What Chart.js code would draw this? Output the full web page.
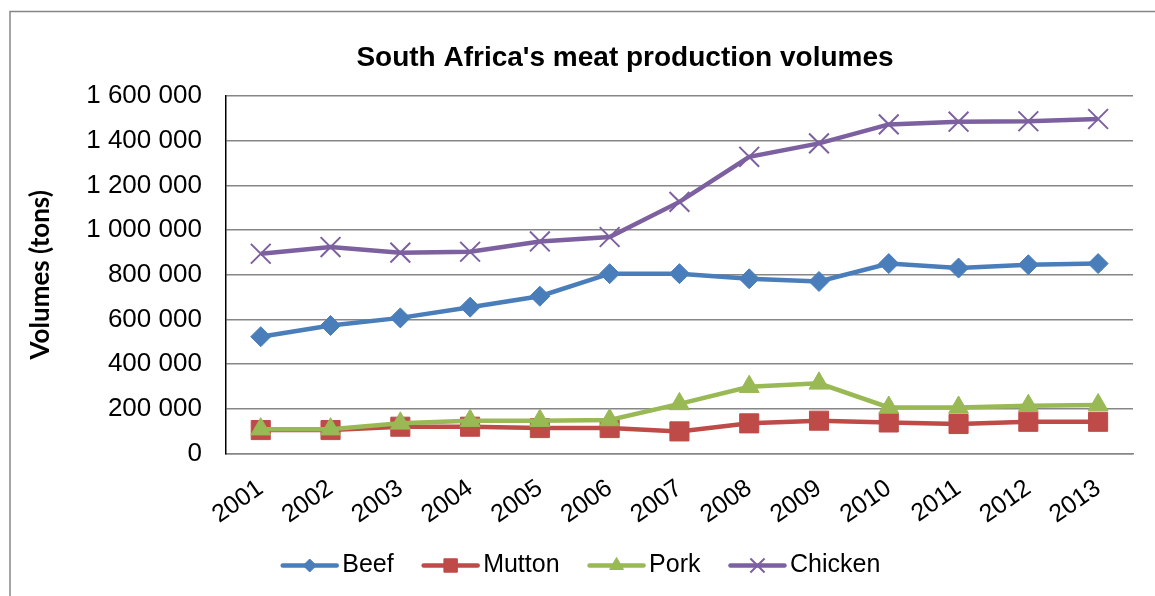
<!DOCTYPE html>
<html>
<head>
<meta charset="utf-8">
<script src="https://cdn.jsdelivr.net/npm/chart.js@4/dist/chart.umd.min.js"></script>
<style>
  html, body { margin: 0; padding: 0; background: #fff; }
  #wrap { width: 1155px; height: 596px; }
</style>
</head>
<body>
<div id="wrap"><canvas id="meatChart"></canvas></div>
<script>
// years on the x axis
const years = ['2001', '2002', '2003', '2004', '2005', '2006', '2007', '2008', '2009', '2010', '2011', '2012', '2013'];

// production volumes in tons
const beef    = [523000, 573000, 607000, 655000, 704000, 805000, 805000, 782000, 770000, 850000, 830000, 845000, 850000];
const mutton  = [105000, 105000, 120000, 120000, 114000, 114000, 99000, 135000, 147000, 139000, 132000, 142000, 142000];
const pork    = [109000, 109000, 135000, 147000, 147000, 150000, 222000, 299000, 314000, 206000, 206000, 214000, 217000];
const chicken = [894000, 924000, 899000, 903000, 949000, 969000, 1126000, 1328000, 1388000, 1473000, 1485000, 1487000, 1497000];

const chartTitle = "South Africa's meat production volumes";

const seriesColors = {
    beef: '#4A7EBB',
    mutton: '#BE4B48',
    pork: '#98B954',
    chicken: '#7D60A0'
};

const legendGap = 13; // extra space in front of each legend sample

function makeSet(label, data, color, style, radius, legendRadius, order) {
    return {
        label: label,
        data: data,
        borderColor: color,
        backgroundColor: color,
        borderWidth: 4.5,
        pointStyle: style,
        pointRadius: radius,
        pointHoverRadius: radius,
        pointBorderWidth: style === 'crossRot' ? 2 : 1,
        pointBackgroundColor: color,
        pointBorderColor: color,
        legendRadius: legendRadius,
        order: order, // later series drawn on top, like the spreadsheet
        tension: 0
    };
}

// gray frame around the whole chart + the title (centred like the original, not on the canvas)
const framePlugin = {
    id: 'frame',
    beforeDraw(chart) {
        const c = chart.ctx;
        c.save();
        c.fillStyle = '#fff';
        c.fillRect(0, 0, chart.width, chart.height);
        c.strokeStyle = '#868686';
        c.lineWidth = 1.5;
        c.strokeRect(10, 11.5, chart.width + 20, chart.height + 20);
        c.restore();
    },
    afterDraw(chart) {
        const c = chart.ctx;
        c.save();
        c.fillStyle = '#000';
        c.font = 'bold 28px "Liberation Sans"';
        c.textAlign = 'center';
        c.textBaseline = 'middle';
        c.fillText(chartTitle, 625, 58);
        c.restore();
    }
};

// legend sample: a line with the series marker in the middle
const legendMarkers = {
    id: 'legendMarkers',
    afterDraw(chart) {
        const legend = chart.legend;
        if (!legend || !legend.legendHitBoxes) return;
        const c = chart.ctx;
        legend.legendHitBoxes.forEach((box, i) => {
            const ds = chart.data.datasets[i];
            const x0 = box.left + legendGap;
            const cy = box.top + box.height / 2;
            c.save();
            c.strokeStyle = ds.borderColor;
            c.fillStyle = ds.backgroundColor;
            c.lineWidth = 4.5;
            c.lineCap = 'round';
            c.beginPath();
            c.moveTo(x0 + 2, cy);
            c.lineTo(x0 + 56, cy);
            c.stroke();
            c.lineCap = 'butt';
            c.lineWidth = ds.pointBorderWidth;
            Chart.helpers.drawPoint(c, {
                pointStyle: ds.pointStyle,
                radius: ds.legendRadius,
                borderWidth: ds.pointBorderWidth
            }, x0 + 29, cy);
            c.restore();
        });
    }
};

const ctx = document.getElementById('meatChart').getContext('2d');

new Chart(ctx, {
    type: 'line',
    data: {
        labels: years,
        datasets: [
            makeSet('Beef', beef, seriesColors.beef, 'rectRot', 10, 6.5, 4),
            makeSet('Mutton', mutton, seriesColors.mutton, 'rect', 13.5, 9.5, 3),
            makeSet('Pork', pork, seriesColors.pork, 'triangle', 11.5, 8, 2),
            makeSet('Chicken', chicken, seriesColors.chicken, 'crossRot', 14, 10, 1)
        ]
    },
    plugins: [framePlugin, legendMarkers],
    options: {
        responsive: true,
        maintainAspectRatio: false,
        animation: false,
        layout: {
            padding: { left: 15, right: 22, top: 96, bottom: 8 }
        },
        plugins: {
            title: { display: false },
            legend: {
                position: 'bottom',
                labels: {
                    color: '#000',
                    font: { family: 'Liberation Sans', size: 25 },
                    usePointStyle: true,
                    pointStyle: 'line',
                    pointStyleWidth: 49 + legendGap,
                    boxHeight: 4,
                    padding: 15,
                    // keep the legend in dataset order even with the draw order set
                    sort: (a, b) => a.datasetIndex - b.datasetIndex,
                    generateLabels(chart) {
                        return chart.data.datasets.map((ds, i) => ({
                            text: ds.label,
                            fillStyle: 'rgba(0,0,0,0)',
                            strokeStyle: 'rgba(0,0,0,0)',
                            lineWidth: 0,
                            pointStyle: 'line',
                            fontColor: '#000',
                            datasetIndex: i
                        }));
                    }
                }
            },
            tooltip: { enabled: false }
        },
        scales: {
            x: {
                offset: true,
                grid: { display: false, drawTicks: false },
                border: { color: '#868686', width: 1.5 },
                ticks: {
                    color: '#000',
                    font: { family: 'Liberation Sans', size: 25 },
                    minRotation: 35,
                    maxRotation: 35,
                    padding: 20
                },
                // let the year labels sit a bit closer to the legend
                afterFit: scale => { scale.height -= 12; }
            },
            y: {
                min: 0,
                max: 1600000,
                grid: { color: '#868686', lineWidth: 1.5, drawTicks: false },
                border: { color: '#000', width: 1.5 },
                ticks: {
                    stepSize: 200000,
                    color: '#000',
                    font: { family: 'Liberation Sans', size: 26 },
                    padding: 24,
                    callback: v => String(v).replace(/\B(?=(\d{3})+(?!\d))/g, ' ')
                },
                title: {
                    display: true,
                    text: 'Volumes (tons)',
                    color: '#000',
                    font: { family: 'Lato', size: 26, weight: 'bold' },
                    padding: { top: 10, bottom: 6 }
                }
            }
        }
    }
});
</script>
</body>
</html>
